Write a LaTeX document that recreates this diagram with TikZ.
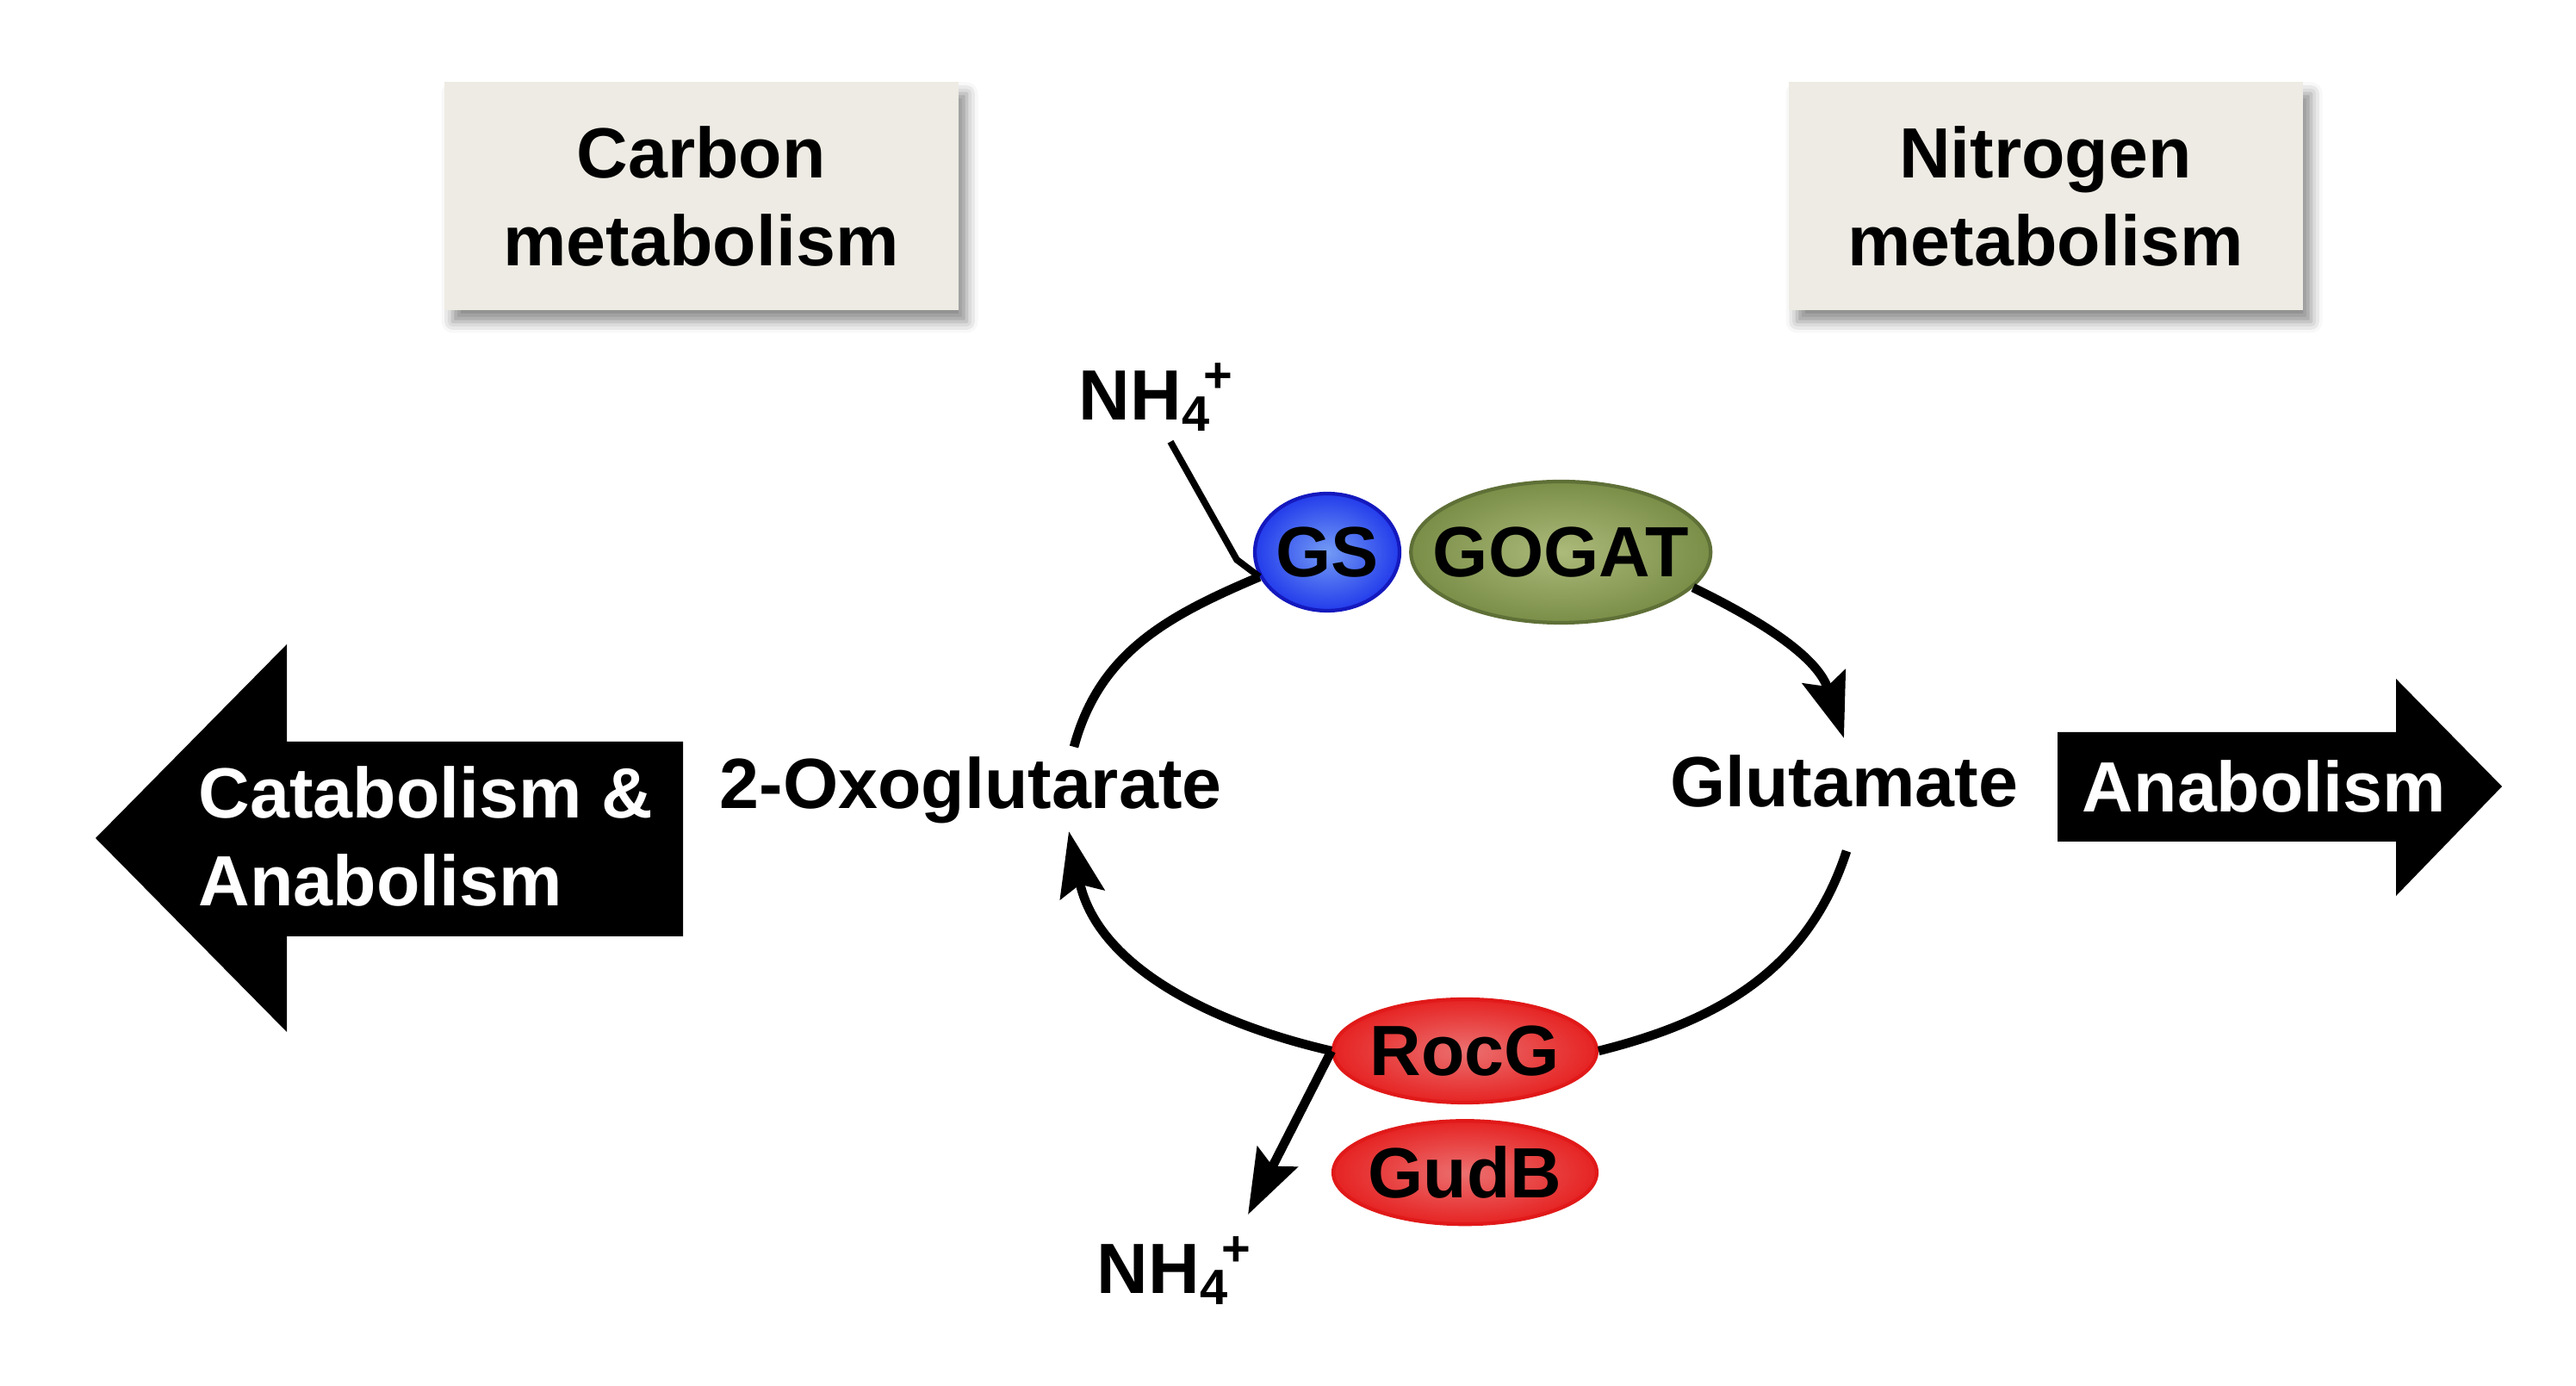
\documentclass[tikz,border=0pt]{standalone}
\usepackage{fontspec}
\setmainfont{Liberation Sans}
\usepackage{xcolor}
\usetikzlibrary{arrows.meta,positioning,shapes.geometric,shadows.blur}
\definecolor{boxbg}{RGB}{237,235,227}
\definecolor{gsout}{RGB}{35,60,235}
\definecolor{gsin}{RGB}{115,155,245}
\definecolor{gsline}{RGB}{20,25,190}
\definecolor{gogatout}{RGB}{122,142,72}
\definecolor{gogatin}{RGB}{172,186,122}
\definecolor{gogatline}{RGB}{95,112,55}
\definecolor{rocout}{RGB}{230,35,35}
\definecolor{rocin}{RGB}{236,112,112}
\definecolor{rocline}{RGB}{225,25,25}
\begin{document}
\begin{tikzpicture}[
  font=\fontsize{23.5}{29}\selectfont\bfseries,
  hdr/.style={fill=boxbg,align=center,minimum width=5.97cm,minimum height=2.65cm,
    blur shadow={shadow xshift=1mm,shadow yshift=-1.3mm,shadow blur radius=1.3mm,shadow opacity=45}},
  enz/.style={ellipse,inner sep=0pt,line width=1.2pt},
  cyc/.style={line width=3pt},
  arr/.style={cyc,-{Stealth[length=7.5mm,width=5.2mm,inset=1.2mm]}},
  big/.style={fill=black}]
\useasboundingbox (0,0) rectangle (29.91,16.08);
\node[hdr] (carbon) at (8.14,13.80) {Carbon\\metabolism};
\node[hdr] (nitro) at (23.75,13.80) {Nitrogen\\metabolism};
\fill[big] (1.11,6.35) -- (3.33,8.60) -- (3.33,7.47) -- (7.93,7.47) -- (7.93,5.21)
  -- (3.33,5.21) -- (3.33,4.10) -- cycle;
\fill[big] (29.05,6.95) -- (27.82,8.20) -- (27.82,7.58) -- (23.89,7.58) -- (23.89,6.31)
  -- (27.82,6.31) -- (27.82,5.68) -- cycle;
\node[white,align=left,anchor=west,inner sep=0pt] (catab) at (2.30,6.37) {Catabolism \&\\Anabolism};
\node[white,anchor=base] (anab) at (26.29,6.65) {Anabolism};
\node[anchor=base] (oxo) at (11.27,6.69) {2-Oxoglutarate};
\node[anchor=base] (glu) at (21.41,6.71) {Glutamate};
\node[enz,minimum width=1.68cm,minimum height=1.36cm,draw=gsline,inner color=gsin,
  outer color=gsout,label=center:GS] (gs) at (15.41,9.67) {};
\node[enz,right=0.9mm of gs,minimum width=3.48cm,minimum height=1.64cm,draw=gogatline,
  inner color=gogatin,outer color=gogatout,label=center:GOGAT] (gogat) {};
\node[enz,minimum width=3.06cm,minimum height=1.2cm,draw=rocline,inner color=rocin,
  outer color=rocout,label=center:RocG] (rocg) at (17.01,3.88) {};
\node[enz,below=1.7mm of rocg,minimum width=3.06cm,minimum height=1.2cm,draw=rocline,
  inner color=rocin,outer color=rocout,label=center:GudB] (gudb) {};
\node (nhin) at (13.43,11.47) {NH\textsubscript{4}\kern-.1em\textsuperscript{+}};
\node (nhout) at (13.64,1.33) {NH\textsubscript{4}\kern-.1em\textsuperscript{+}};
\coordinate (oxoup) at (12.47,7.41);
\coordinate (oxodn) at (12.41,6.43);
\coordinate (gluup) at (21.41,7.51);
\coordinate (gludn) at (21.44,6.20);
\coordinate (nhtip) at (14.49,1.98);
\draw[cyc] (oxoup) to[out=75,in=203] (gs.200);
\draw[arr] (gogat.-15) to[out=-26,in=108] (gluup);
\draw[cyc] (gludn) to[out=-108,in=14] (rocg.east);
\draw[arr] (rocg.west) to[out=167,in=-78] (oxodn);
\draw[arr] (rocg.west) -- (nhtip);
\draw[cyc,line width=2.2pt] ([xshift=1.6mm]nhin.south) -- ++(0.77,-1.37) -- (gs.200);
\end{tikzpicture}
\end{document}
